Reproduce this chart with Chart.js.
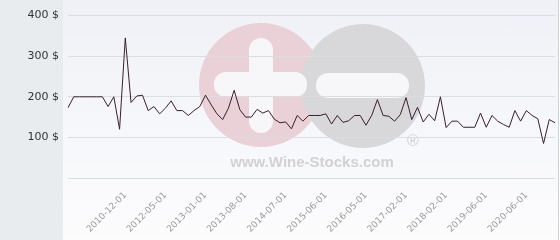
<!DOCTYPE html>
<html>
<head>
<meta charset="utf-8">
<script src="https://cdn.jsdelivr.net/npm/chart.js@4/dist/chart.umd.min.js"></script>
<style>
  html, body { margin: 0; padding: 0; background: #fff; }
  #wrap {
    position: relative; width: 560px; height: 240px;
    background:
      linear-gradient(to right, #e8ecef 0, #e8ecef 63px, transparent 63px),
      linear-gradient(to bottom, #eff1f6 0%, #f7f8fb 60%, #fcfcfd 100%);
  }
</style>
</head>
<body>
<div id="wrap"><canvas id="chart" width="560" height="240"></canvas></div>
<script>
// price history, one value per listed date (86 points)
const prices = [
  173, 200, 200, 200, 200, 200, 200, 176, 200, 120,
  345, 186, 202, 204, 166, 176, 158, 172, 190, 166,
  166, 154, 166, 176, 204, 180, 158, 144, 172, 216,
  168, 150, 150, 169, 160, 166, 145, 136, 138, 121,
  154, 140, 154, 154, 154, 158, 133, 154, 137, 141,
  154, 154, 130, 154, 193, 154, 152, 140, 156, 198,
  144, 174, 138, 157, 141, 200, 124, 140, 140, 125,
  125, 125, 160, 125, 154, 140, 132, 125, 166, 140,
  166, 154, 146, 85, 144, 136
];

// dates shown on the x axis and the point each one sits on
const tickDates = ["2010-12-01", "2012-05-01", "2013-01-01", "2013-08-01", "2014-07-01",
  "2015-06-01", "2016-05-01", "2017-02-01", "2018-02-01", "2019-06-01", "2020-06-01"];
const tickIndex = [10, 17, 24, 31, 38, 45, 52, 59, 66, 73, 80];

const yTicks = [0, 100, 200, 300, 400];

const labels = prices.map(() => "");
tickIndex.forEach((idx, i) => { labels[idx] = tickDates[i]; });

Chart.defaults.font.family = "'DejaVu Sans', sans-serif";

function roundRect(ctx, x, y, w, h, r) {
  ctx.beginPath();
  ctx.moveTo(x + r, y);
  ctx.arcTo(x + w, y, x + w, y + h, r);
  ctx.arcTo(x + w, y + h, x, y + h, r);
  ctx.arcTo(x, y + h, x, y, r);
  ctx.arcTo(x, y, x + w, y, r);
  ctx.closePath();
  ctx.fill();
}

// faint logo behind the plot
const watermark = {
  id: "watermark",
  beforeDraw(chart) {
    const ctx = chart.ctx;
    ctx.save();
    ctx.fillStyle = "#ead0d7";
    ctx.beginPath(); ctx.arc(261, 85, 62, 0, Math.PI * 2); ctx.fill();
    ctx.fillStyle = "#d8d8da";
    ctx.beginPath(); ctx.arc(363, 86, 62, 0, Math.PI * 2); ctx.fill();
    ctx.fillStyle = "#f7f7f9";
    roundRect(ctx, 249, 38, 24, 95, 12);
    roundRect(ctx, 214, 72, 93, 25, 12);
    roundRect(ctx, 316, 73, 93, 25, 12);
    ctx.fillStyle = "#d2d2d4";
    ctx.font = "bold 15px 'Liberation Sans', Arial, sans-serif";
    ctx.textAlign = "center";
    ctx.textBaseline = "alphabetic";
    ctx.fillText("www.Wine-Stocks.com", 312, 167);
    ctx.font = "16px 'Liberation Sans', Arial, sans-serif";
    ctx.fillText("\u00AE", 413, 146);
    ctx.restore();
  },
  afterDraw(chart) {
    const ctx = chart.ctx;
    ctx.save();
    ctx.fillStyle = "#cfd2d6";
    ctx.fillRect(558, 0, 1, 240);
    ctx.fillStyle = "#ffffff";
    ctx.fillRect(559, 0, 1, 240);
    ctx.restore();
  }
};

new Chart(document.getElementById("chart"), {
  type: "line",
  data: {
    labels: labels,
    datasets: [{
      data: prices,
      borderColor: "#3b1e2c",
      borderWidth: 1,
      pointRadius: 0,
      tension: 0,
      fill: false
    }]
  },
  options: {
    responsive: false,
    animation: false,
    layout: { padding: { top: 12, right: 5, left: 0, bottom: 0 } },
    plugins: { legend: { display: false }, tooltip: { enabled: false } },
    scales: {
      x: {
        grid: { display: false },
        border: { display: false },
        ticks: {
          autoSkip: false,
          minRotation: 45,
          maxRotation: 45,
          padding: 4,
          color: "#9a9a9a",
          font: { size: 9 }
        },
        afterFit(scale) { scale.height = 62; scale.paddingLeft = 0; scale.paddingRight = 0; }
      },
      y: {
        min: yTicks[0],
        max: yTicks[yTicks.length - 1],
        grid: { color: "#dcdde1", drawTicks: false },
        border: { display: false },
        afterBuildTicks(scale) { scale.ticks = yTicks.map(v => ({ value: v })); },
        ticks: {
          padding: 9,
          color: "#333333",
          font: { size: 11 },
          callback: v => v === 0 ? "" : v + " $"
        },
        afterFit(scale) { scale.width = 68; }
      }
    }
  },
  plugins: [watermark]
});
</script>
</body>
</html>
